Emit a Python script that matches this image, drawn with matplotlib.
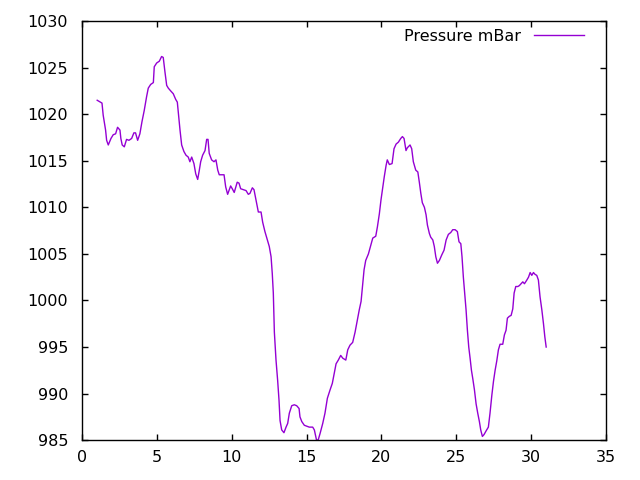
import matplotlib
matplotlib.use('Agg')
import matplotlib.pyplot as plt

# day of month vs pressure
day = [1.02, 1.34, 1.42, 1.58, 1.65, 1.76, 1.94, 2.09, 2.25, 2.38, 2.54, 2.6, 2.69, 2.83,
       2.98, 3.14, 3.32, 3.47, 3.58, 3.72, 3.87, 4.01, 4.16, 4.32, 4.43, 4.59, 4.77, 4.83,
       4.99, 5.17, 5.32, 5.43, 5.54, 5.66, 5.77, 5.93, 6.1, 6.26, 6.37, 6.48, 6.55, 6.66,
       6.81, 6.95, 7.1, 7.21, 7.33, 7.48, 7.6, 7.73, 7.84, 7.93, 8.06, 8.22, 8.33, 8.42,
       8.5, 8.66, 8.82, 8.95, 9.07, 9.17, 9.4, 9.49, 9.6, 9.73, 9.93, 10.04, 10.17, 10.37,
       10.49, 10.6, 10.78, 10.96, 11.11, 11.22, 11.38, 11.49, 11.6, 11.78, 11.96, 12.07,
       12.22, 12.38, 12.51, 12.63, 12.71, 12.78, 12.85, 12.96, 13.07, 13.16, 13.23, 13.34,
       13.49, 13.63, 13.74, 13.85, 14.01, 14.18, 14.34, 14.5, 14.56, 14.68, 14.85, 15.01,
       15.18, 15.41, 15.52, 15.61, 15.68, 15.79, 15.9, 16.08, 16.23, 16.39, 16.57, 16.72,
       16.86, 16.97, 17.12, 17.28, 17.42, 17.62, 17.75, 17.9, 18.08, 18.24, 18.39, 18.52,
       18.64, 18.75, 18.84, 18.95, 19.13, 19.28, 19.42, 19.62, 19.73, 19.86, 19.97, 20.09,
       20.19, 20.31, 20.39, 20.53, 20.71, 20.84, 20.98, 21.13, 21.29, 21.4, 21.51, 21.64,
       21.73, 21.91, 22.02, 22.13, 22.29, 22.43, 22.53, 22.63, 22.73, 22.87, 22.98, 23.07,
       23.2, 23.29, 23.43, 23.53, 23.63, 23.74, 23.87, 24.03, 24.18, 24.32, 24.47, 24.63,
       24.76, 24.92, 25.07, 25.18, 25.3, 25.38, 25.47, 25.56, 25.65, 25.74, 25.83, 25.92,
       26.01, 26.1, 26.21, 26.32, 26.43, 26.54, 26.63, 26.74, 26.85, 26.99, 27.14, 27.25,
       27.37, 27.48, 27.59, 27.7, 27.81, 27.92, 28.1, 28.21, 28.32, 28.41, 28.54, 28.66,
       28.77, 28.86, 28.97, 29.11, 29.21, 29.33, 29.44, 29.55, 29.71, 29.82, 29.93, 30.04,
       30.15, 30.26, 30.37, 30.48, 30.59, 30.71, 30.82, 30.91, 31.0]
pressure = [1021.5, 1021.2, 1019.9, 1018.3, 1017.2, 1016.7, 1017.4, 1017.8, 1017.9, 1018.6,
            1018.3, 1017.4, 1016.7, 1016.5, 1017.3, 1017.2, 1017.4, 1018.0, 1018.0, 1017.2,
            1017.9, 1019.2, 1020.4, 1021.9, 1022.8, 1023.2, 1023.4, 1025.1, 1025.5, 1025.7,
            1026.2, 1026.1, 1024.6, 1023.1, 1022.8, 1022.5, 1022.2, 1021.6, 1021.3, 1019.5,
            1018.3, 1016.7, 1016.0, 1015.6, 1015.4, 1014.9, 1015.4, 1014.7, 1013.6, 1013.0,
            1014.0, 1014.9, 1015.6, 1016.1, 1017.3, 1017.3, 1015.8, 1015.1, 1014.9, 1015.1,
            1014.0, 1013.5, 1013.5, 1013.5, 1012.2, 1011.4, 1012.3, 1012.0, 1011.6, 1012.7,
            1012.6, 1012.0, 1011.9, 1011.8, 1011.4, 1011.5, 1012.1, 1011.9, 1011.0, 1009.5,
            1009.5, 1008.4, 1007.4, 1006.5, 1005.8, 1004.7, 1002.9, 1000.8, 996.6, 993.6,
            991.4, 989.3, 987.1, 986.1, 985.8, 986.4, 986.8, 987.9, 988.7, 988.8, 988.7,
            988.4, 987.5, 987.0, 986.6, 986.5, 986.4, 986.4, 986.1, 985.4, 984.9, 985.1,
            985.7, 986.8, 987.9, 989.5, 990.4, 991.1, 992.3, 993.2, 993.6, 994.1, 993.8,
            993.6, 994.7, 995.2, 995.5, 996.6, 997.9, 999.0, 999.9, 1001.8, 1003.3, 1004.3,
            1005.0, 1005.9, 1006.7, 1006.9, 1007.9, 1009.3, 1010.8, 1012.2, 1013.3, 1014.5,
            1015.1, 1014.6, 1014.7, 1016.3, 1016.8, 1017.0, 1017.4, 1017.6, 1017.4, 1016.1,
            1016.4, 1016.7, 1016.3, 1014.9, 1014.0, 1013.8, 1012.7, 1011.5, 1010.5, 1010.0,
            1009.2, 1008.1, 1007.2, 1006.8, 1006.5, 1005.8, 1004.7, 1004.0, 1004.3, 1004.9,
            1005.4, 1006.5, 1007.1, 1007.3, 1007.6, 1007.6, 1007.4, 1006.3, 1006.1, 1004.7,
            1002.5, 1000.8, 999.0, 996.8, 995.0, 993.8, 992.5, 991.6, 990.4, 988.9, 987.9,
            987.0, 986.1, 985.4, 985.6, 986.0, 986.4, 987.9, 989.8, 991.3, 992.5, 993.5,
            994.7, 995.3, 995.3, 996.3, 996.8, 998.1, 998.3, 998.4, 999.1, 1000.8, 1001.5,
            1001.5, 1001.6, 1001.8, 1002.0, 1001.8, 1002.2, 1002.5, 1003.0, 1002.7, 1003.0,
            1002.8, 1002.7, 1002.2, 1000.4, 999.0, 997.5, 996.1, 995.0]

fig = plt.figure(figsize=(6.4, 4.8), dpi=100)
ax = fig.add_axes([0.128, 0.083, 0.819, 0.873])

ax.plot(day, pressure, color='#9400d3', lw=1, label='Pressure mBar')

ax.set_xlim(0, 35)
ax.set_ylim(985, 1030)
ax.set_xticks(range(0, 36, 5))
ax.set_yticks(range(985, 1031, 5))
ax.tick_params(direction='in', top=True, right=True, length=4.5, width=1,
               labelsize=11.5, colors='black')
ax.tick_params(axis='y', pad=10)
ax.tick_params(axis='x', pad=7)
for s in ax.spines.values():
    s.set_linewidth(1)

ax.legend(loc='upper right', bbox_to_anchor=(0.9695, 0.997), frameon=False,
          markerfirst=False, fontsize=11.5, handlelength=3.1, borderaxespad=0,
          handletextpad=0.8)

fig.savefig('out.png')
